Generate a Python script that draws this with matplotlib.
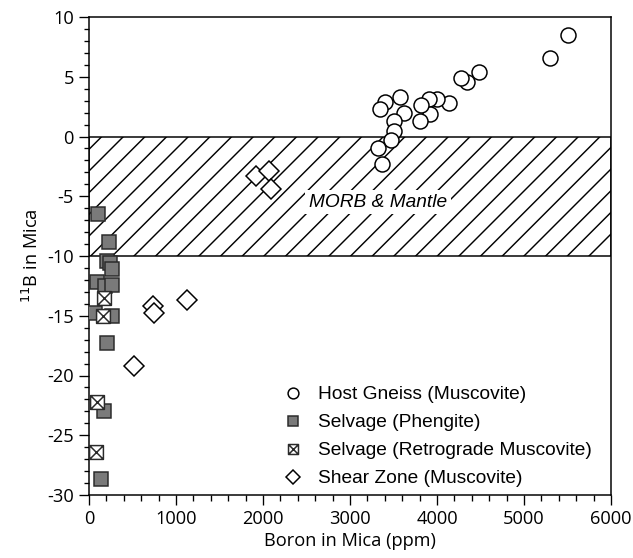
import matplotlib
matplotlib.use("Agg")
import matplotlib.pyplot as plt
from matplotlib.path import Path
from matplotlib.ticker import MultipleLocator

# Host Gneiss (Muscovite)
host_b = [5500, 5300, 4480, 4340, 4280, 4140, 4000, 3910, 3920, 3820,
          3810, 3620, 3570, 3400, 3350, 3500, 3500, 3470, 3320, 3370]
host_d = [8.5, 6.6, 5.4, 4.6, 4.9, 2.8, 3.1, 3.1, 1.9, 2.6,
          1.3, 2.0, 3.3, 2.9, 2.3, 1.3, 0.5, -0.3, -1.0, -2.3]

# Selvage (Phengite)
phen_b = [100, 225, 205, 243, 262, 90, 186, 262, 65, 262, 205, 167, 141]
phen_d = [-6.5, -8.8, -10.4, -10.6, -11.1, -12.2, -12.5, -12.4, -14.8,
          -15.0, -17.3, -23.0, -28.7]

# Selvage (Retrograde Muscovite)
retro_b = [175, 156, 91, 83]
retro_d = [-13.5, -15.0, -22.2, -26.4]

# Shear Zone (Muscovite)
shear_b = [1920, 2070, 2090, 740, 752, 1132, 521]
shear_d = [-3.3, -2.9, -4.4, -14.2, -14.8, -13.7, -19.2]

plt.rcParams['font.family'] = ['Open Sans', 'DejaVu Sans']
plt.rcParams['hatch.linewidth'] = 0.8
plt.rcParams['axes.unicode_minus'] = False

# dpi 130 gives the hatch spacing of the reference
dpi = 130
fig = plt.figure(figsize=(633 / dpi, 558 / dpi), dpi=dpi)
ax = fig.add_axes([89 / 633, 1 - 495 / 558, 522 / 633, 478 / 558])
k = 120 / dpi  # keep point sizes tuned at 120 dpi

# MORB & Mantle field
ax.axhspan(-10, 0, facecolor='white', edgecolor='black', hatch='//',
           linewidth=0.9 * k, zorder=1)
ax.text(3320, -5.5, 'MORB & Mantle', style='italic', fontsize=11.5 * k,
        family=['Liberation Sans', 'DejaVu Sans'], ha='center', va='center',
        bbox=dict(facecolor='white', edgecolor='none', pad=2), zorder=2)

# crossed square marker
xbox = Path([(-1, -1), (1, -1), (1, 1), (-1, 1), (-1, -1),
             (-1, -1), (1, 1), (-1, 1), (1, -1)],
            [Path.MOVETO, Path.LINETO, Path.LINETO, Path.LINETO, Path.CLOSEPOLY,
             Path.MOVETO, Path.LINETO, Path.MOVETO, Path.LINETO])

ax.plot(host_b, host_d, 'o', ms=9 * k, mfc='white', mec='black', mew=0.9 * k,
        label='Host Gneiss (Muscovite)', zorder=3)
ax.plot(phen_b, phen_d, 's', ms=8.3 * k, mfc='#7a7a7a', mec='#2a2a2a', mew=0.9 * k,
        label='Selvage (Phengite)', zorder=3)
ax.plot(retro_b, retro_d, marker=xbox, ls='none', ms=8.3 * k, mfc='white',
        mec='#2a2a2a', mew=0.9 * k, label='Selvage (Retrograde Muscovite)', zorder=3)
ax.plot(shear_b, shear_d, 'D', ms=8.3 * k, mfc='white', mec='black', mew=0.9 * k,
        label='Shear Zone (Muscovite)', zorder=3)

ax.set_xlim(0, 6000)
ax.set_ylim(-30, 10)
ax.xaxis.set_major_locator(MultipleLocator(1000))
ax.xaxis.set_minor_locator(MultipleLocator(200))
ax.yaxis.set_major_locator(MultipleLocator(5))
ax.yaxis.set_minor_locator(MultipleLocator(1))
ax.tick_params(which='major', direction='out', length=6 * k, width=0.8 * k,
               labelsize=11 * k, pad=3 * k)
ax.tick_params(which='minor', direction='out', length=3.3 * k, width=0.8 * k)
for s in ax.spines.values():
    s.set_linewidth(0.9 * k)

ax.set_xlabel('Boron in Mica (ppm)', fontsize=11 * k, labelpad=2)
ax.set_ylabel('$^{11}$B in Mica', fontsize=11 * k, labelpad=3)

leg = ax.legend(loc='upper left', bbox_to_anchor=(0.335, 0.264), frameon=False,
                markerscale=0.72, handlelength=1.2, handletextpad=0.75,
                labelspacing=0.55,
                prop={'family': ['Liberation Sans', 'DejaVu Sans'], 'size': 11.5 * k})

fig.savefig('out.png', dpi=dpi)
